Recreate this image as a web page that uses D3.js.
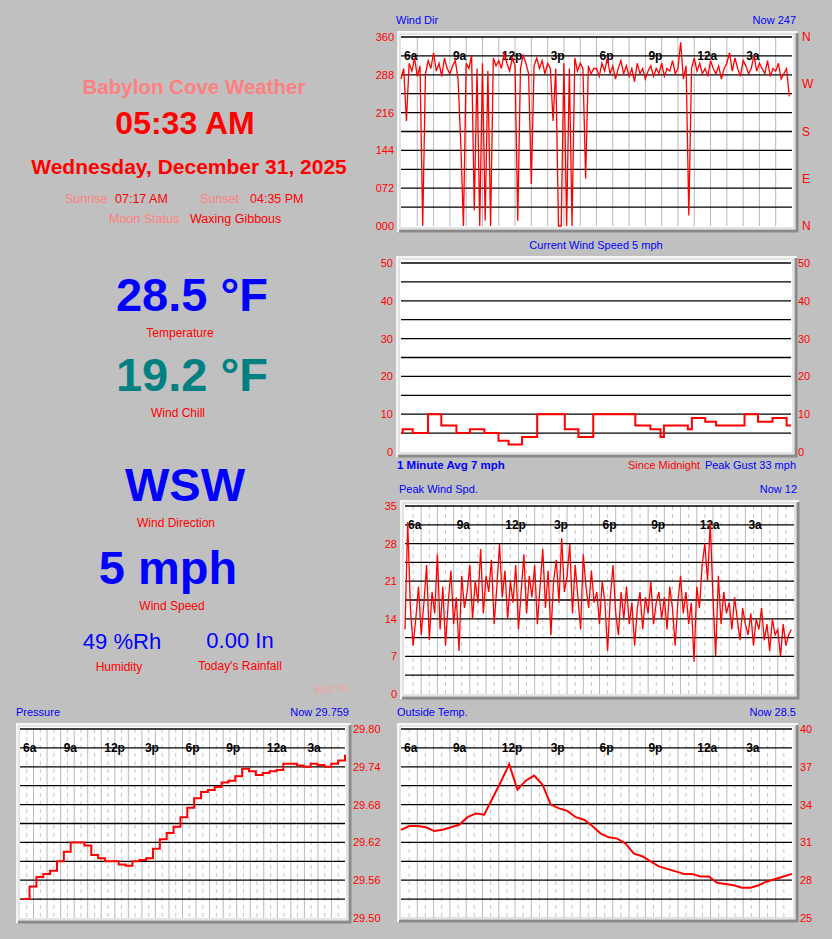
<!DOCTYPE html>
<html>
<head>
<meta charset="utf-8">
<script src="https://cdn.jsdelivr.net/npm/d3@7"></script>
<style>
  body { margin: 0; background: #c0c0c0; }
  text { font-family: "Liberation Sans", Arial, sans-serif; }
</style>
</head>
<body>
<div id="frame"></div>
<script>
// time ticks shared by the time charts (hours after 6a)
const timeTicks = [0, 3, 6, 9, 12, 15, 18, 21]
const timeLabels = ["6a", "9a", "12p", "3p", "6p", "9p", "12a", "3a"]

// wind direction, 10 minute samples from 6a
const windDir = [
  280,300,200,310,295,320,285,305,0,290,315,300,
  330,295,310,285,320,300,290,305,315,280,160,0,
  310,300,325,30,300,0,310,10,295,0,320,305,
  315,300,330,310,295,320,305,10,300,325,310,290,
  80,305,320,300,315,290,310,300,200,300,0,0,
  310,0,300,0,320,295,310,300,90,305,290,300,
  300,285,310,295,320,290,305,280,300,315,290,305,
  285,300,275,310,290,300,280,295,305,285,300,290,
  310,285,300,295,315,290,300,350,280,305,20,300,
  320,295,310,290,300,285,315,300,290,305,280,300,
  310,330,295,320,300,285,315,305,290,300,325,295,
  310,300,290,315,285,300,295,310,280,290,300,247
]
const dirTickVals = [0, 72, 144, 216, 288, 360]
const dirTickText = ["000", "072", "144", "216", "288", "360"]
const compassVals = [0, 90, 180, 270, 360]
const compassText = ["N", "E", "S", "W", "N"]

// current wind speed steps (start hour, mph)
const spdStart = [0, 0.1, 0.72, 1.66, 2.48, 3.41, 4.24, 5.13, 6.0, 6.62, 7.45, 8.38, 10.08, 10.92, 11.83, 14.42, 15.35, 15.97, 16.18, 17.65, 17.9, 18.72, 19.39, 21.14, 21.97, 22.86, 23.73]
const spdVal = [5, 6, 5, 10, 7, 5, 6, 5, 3, 2, 4, 10, 6, 4, 10, 7, 6, 4, 7, 6, 9, 8, 7, 10, 8, 9, 7]
const spdTicks = [0, 10, 20, 30, 40, 50]

// peak wind, 10 minute samples from 6a
const peakWind = [
  12,32,16,9,14,20,11,17,24,10,19,15,
  26,12,20,9,17,23,13,18,8,22,16,19,
  24,14,21,17,27,15,22,19,25,13,20,28,
  18,23,14,21,17,24,12,19,26,15,22,18,
  24,13,20,27,16,23,11,21,25,17,29,19,
  22,28,15,24,18,12,26,20,16,23,17,19,
  13,21,17,8,18,24,15,11,19,14,20,13,
  17,9,16,19,12,18,15,21,13,17,19,14,
  18,12,20,16,9,17,22,15,19,13,17,6,
  20,16,24,28,21,32,18,7,22,13,19,15,
  17,12,18,14,10,16,13,11,15,9,14,12,
  16,10,13,8,14,11,12,7,13,9,11,12
]
const peakTicks = [0, 7, 14, 21, 28, 35]

// pressure, 30 minute samples from 6a
const pressure = [
  29.53,29.55,29.565,29.57,29.575,29.59,29.605,29.62,29.62,29.615,29.60,29.595,
  29.59,29.59,29.585,29.583,29.59,29.592,29.595,29.61,29.625,29.635,29.645,29.66,
  29.675,29.69,29.70,29.703,29.708,29.715,29.718,29.725,29.737,29.733,29.727,29.73,
  29.733,29.735,29.745,29.745,29.742,29.74,29.745,29.743,29.74,29.745,29.75,29.759
]
const presTicks = [29.50, 29.56, 29.62, 29.68, 29.74, 29.80]

// outside temp, 30 minute samples from 6a
const outTemp = [
  32.0,32.3,32.3,32.2,31.9,32.0,32.2,32.4,33.0,33.3,33.2,34.5,
  35.8,37.2,35.2,35.9,36.3,35.6,34.0,33.7,33.5,33.0,32.8,32.3,
  31.7,31.4,31.3,30.9,30.1,29.9,29.5,29.1,28.9,28.7,28.5,28.5,
  28.3,28.3,27.8,27.7,27.6,27.4,27.4,27.6,27.9,28.1,28.3,28.5
]
const tempTicks = [25, 28, 31, 34, 37, 40]

const svg = d3.select("#frame").append("svg").attr("width", 832).attr("height", 939)

// left column text
const leftText = [
  { t: "Babylon Cove Weather", x: 194, y: 94, s: 20.5, w: "bold", c: "#ff8080" },
  { t: "05:33 AM", x: 185, y: 134, s: 32, w: "bold", c: "#ff0000" },
  { t: "Wednesday, December 31, 2025", x: 189, y: 174, s: 21, w: "bold", c: "#ff0000" },
  { t: "28.5 °F", x: 192, y: 311, s: 47, w: "bold", c: "#0000ff" },
  { t: "Temperature", x: 180, y: 337, s: 12, w: "normal", c: "#ff0000" },
  { t: "19.2 °F", x: 192, y: 391, s: 47, w: "bold", c: "#008080" },
  { t: "Wind Chill", x: 178, y: 417, s: 12, w: "normal", c: "#ff0000" },
  { t: "WSW", x: 185, y: 501, s: 47, w: "bold", c: "#0000ff" },
  { t: "Wind Direction", x: 176, y: 527, s: 12, w: "normal", c: "#ff0000" },
  { t: "5 mph", x: 168, y: 584, s: 47, w: "bold", c: "#0000ff" },
  { t: "Wind Speed", x: 172, y: 610, s: 12, w: "normal", c: "#ff0000" },
  { t: "49 %Rh", x: 122, y: 649, s: 22, w: "normal", c: "#0000ff" },
  { t: "Humidity", x: 119, y: 671, s: 12, w: "normal", c: "#ff0000" },
  { t: "0.00 In", x: 240, y: 648, s: 22, w: "normal", c: "#0000ff" },
  { t: "Today's Rainfall", x: 240, y: 670, s: 12, w: "normal", c: "#ff0000" },
  { t: "69.0 °F", x: 331, y: 693, s: 10, w: "normal", c: "#ff9a9a" }
]
svg.selectAll("text.left").data(leftText).join("text")
  .attr("class", "left")
  .attr("x", d => d.x).attr("y", d => d.y)
  .attr("text-anchor", "middle")
  .attr("font-size", d => d.s).attr("font-weight", d => d.w)
  .attr("fill", d => d.c).text(d => d.t)

const sunText = [
  { t: "Sunrise", x: 65, y: 203, c: "#ff8080" },
  { t: "07:17 AM", x: 115, y: 203, c: "#ff0000" },
  { t: "Sunset", x: 200, y: 203, c: "#ff8080" },
  { t: "04:35 PM", x: 250, y: 203, c: "#ff0000" },
  { t: "Moon Status", x: 109, y: 223, c: "#ff8080" },
  { t: "Waxing Gibbous", x: 190, y: 223, c: "#ff0000" }
]
svg.selectAll("text.sun").data(sunText).join("text")
  .attr("class", "sun")
  .attr("x", d => d.x).attr("y", d => d.y)
  .attr("font-size", 12.5).attr("fill", d => d.c).text(d => d.t)

// one bevelled chart panel with grid, returns scales
function panel(cfg) {
  const g = svg.append("g")
  const { fx0, fy0, fx1, fy1 } = cfg
  g.append("rect").attr("x", fx0).attr("y", fy0).attr("width", fx1 - fx0).attr("height", fy1 - fy0)
    .attr("fill", "#ffffff")
  g.append("path").attr("d", `M${fx0 + 1},${fy1}V${fy0 + 1}H${fx1}`)
    .attr("stroke", "#f4f4f4").attr("stroke-width", 2).attr("fill", "none")
  g.append("path").attr("d", `M${fx0 + 2},${fy1 - 1}H${fx1 - 1}V${fy0 + 2}`)
    .attr("stroke", "#8a8a8a").attr("stroke-width", 3).attr("fill", "none")
  g.append("rect").attr("x", fx0 + 3).attr("y", fy0 + 3).attr("width", fx1 - fx0 - 7).attr("height", fy1 - fy0 - 7)
    .attr("fill", "none").attr("stroke", "#c8c8c8")

  const x = d3.scaleLinear([0, 24], [cfg.px0, cfg.px1])
  const y = d3.scaleLinear(cfg.domain, [cfg.py1, cfg.py0])

  if (cfg.vgrid) {
    d3.range(1, 48).forEach(i => {
      const h = i / 2
      if (cfg.vgrid === "hour" && i % 2) return
      g.append("line").attr("x1", x(h)).attr("x2", x(h)).attr("y1", cfg.py0).attr("y2", cfg.py1)
        .attr("stroke", i % 2 ? "#c4c4c4" : "#b8b8b8")
        .attr("stroke-dasharray", i % 2 ? "4,4" : null)
    })
  }
  const step = (cfg.domain[1] - cfg.domain[0]) / 10
  d3.range(0, 10).forEach(i => {
    const v = cfg.domain[1] - i * step
    g.append("line").attr("x1", cfg.px0).attr("x2", cfg.px1).attr("y1", y(v)).attr("y2", y(v))
      .attr("stroke", "#000").attr("stroke-width", 1.3)
  })
  if (cfg.timeLabels) {
    g.selectAll("text.tl").data(timeTicks).join("text")
      .attr("x", (d, i) => x(d) + 3).attr("y", y(cfg.domain[1] - step) + 4)
      .attr("font-size", 12).attr("font-weight", "bold").attr("fill", "#000")
      .text((d, i) => timeLabels[i])
  }
  cfg.axes.forEach(a => {
    g.selectAll(null).data(a.vals).join("text")
      .attr("x", a.x).attr("y", d => y(d) + 4)
      .attr("text-anchor", a.anchor)
      .attr("font-size", a.size || 11).attr("fill", "#ff0000")
      .text((d, i) => a.text ? a.text[i] : a.fmt(d))
  })
  g.append("text").attr("x", cfg.tx0).attr("y", fy0 - 7).attr("font-size", 11)
    .attr("fill", "#0000ff").attr("text-anchor", cfg.tAnchor || "start").text(cfg.title)
  if (cfg.now) {
    g.append("text").attr("x", fx1 - 2).attr("y", fy0 - 7).attr("font-size", 11)
      .attr("fill", "#0000ff").attr("text-anchor", "end").text(cfg.now)
  }
  return { g, x, y }
}

// Wind Dir
const wd = panel({
  fx0: 397, fy0: 31, fx1: 798, fy1: 232, px0: 401, px1: 792, py0: 37, py1: 226,
  domain: [0, 360], vgrid: "hour", timeLabels: true, title: "Wind Dir", tx0: 396, now: "Now 247",
  axes: [
    { vals: dirTickVals, text: dirTickText, x: 394, anchor: "end" },
    { vals: compassVals, text: compassText, x: 802, anchor: "start", size: 12 }
  ]
})
wd.g.append("path").datum(windDir)
  .attr("d", d3.line().x((d, i) => wd.x(i / 6)).y(d => wd.y(d)))
  .attr("fill", "none").attr("stroke", "#ff0000").attr("stroke-width", 1.3)

// Current Wind Speed
const ws = panel({
  fx0: 396, fy0: 256, fx1: 797, fy1: 457, px0: 401, px1: 791, py0: 263, py1: 452,
  domain: [0, 50], vgrid: null, timeLabels: false, title: "Current Wind Speed 5 mph", tx0: 596, tAnchor: "middle",
  axes: [
    { vals: spdTicks, fmt: d => d, x: 393, anchor: "end" },
    { vals: spdTicks, fmt: d => d, x: 798, anchor: "start" }
  ]
})
const spdPts = spdStart.map((h, i) => [h, spdVal[i]]).concat([[24, spdVal[spdVal.length - 1]]])
ws.g.append("path").datum(spdPts)
  .attr("d", d3.line().x(d => ws.x(d[0])).y(d => ws.y(d[1])).curve(d3.curveStepAfter))
  .attr("fill", "none").attr("stroke", "#ff0000").attr("stroke-width", 2)
svg.append("text").attr("x", 397).attr("y", 469).attr("font-size", 11.5).attr("font-weight", "bold")
  .attr("fill", "#0000ff").text("1 Minute Avg 7 mph")
svg.append("text").attr("x", 628).attr("y", 469).attr("font-size", 11).attr("fill", "#ff0000").text("Since Midnight")
svg.append("text").attr("x", 796).attr("y", 469).attr("font-size", 11).attr("fill", "#0000ff")
  .attr("text-anchor", "end").text("Peak Gust 33 mph")

// Peak Wind
const pw = panel({
  fx0: 400, fy0: 500, fx1: 799, fy1: 699, px0: 405, px1: 794, py0: 506, py1: 694,
  domain: [0, 35], vgrid: "half", timeLabels: true, title: "Peak Wind Spd.", tx0: 399, now: "Now 12",
  axes: [{ vals: peakTicks, fmt: d => d, x: 397, anchor: "end" }]
})
pw.g.append("path").datum(peakWind)
  .attr("d", d3.line().x((d, i) => pw.x(i / 6)).y(d => pw.y(d)))
  .attr("fill", "none").attr("stroke", "#ff0000").attr("stroke-width", 1.3)

// Pressure
const pr = panel({
  fx0: 16, fy0: 723, fx1: 351, fy1: 923, px0: 20, px1: 345, py0: 729, py1: 918,
  domain: [29.50, 29.80], vgrid: "half", timeLabels: true, title: "Pressure", tx0: 16, now: "Now 29.759",
  axes: [{ vals: presTicks, fmt: d => d.toFixed(2), x: 353, anchor: "start" }]
})
pr.g.append("path").datum(pressure)
  .attr("d", d3.line().x((d, i) => pr.x(0.2 + i / 2 * 23.8 / 23.5)).y(d => pr.y(d)).curve(d3.curveStepAfter))
  .attr("fill", "none").attr("stroke", "#ff0000").attr("stroke-width", 2)

// Outside Temp
const ot = panel({
  fx0: 397, fy0: 723, fx1: 798, fy1: 922, px0: 401, px1: 792, py0: 729, py1: 918,
  domain: [25, 40], vgrid: "half", timeLabels: true, title: "Outside Temp.", tx0: 397, now: "Now 28.5",
  axes: [{ vals: tempTicks, fmt: d => d, x: 800, anchor: "start" }]
})
ot.g.append("path").datum(outTemp)
  .attr("d", d3.line().x((d, i) => ot.x(i / 2 * 24 / 23.5)).y(d => ot.y(d)))
  .attr("fill", "none").attr("stroke", "#ff0000").attr("stroke-width", 2)
</script>
</body>
</html>
